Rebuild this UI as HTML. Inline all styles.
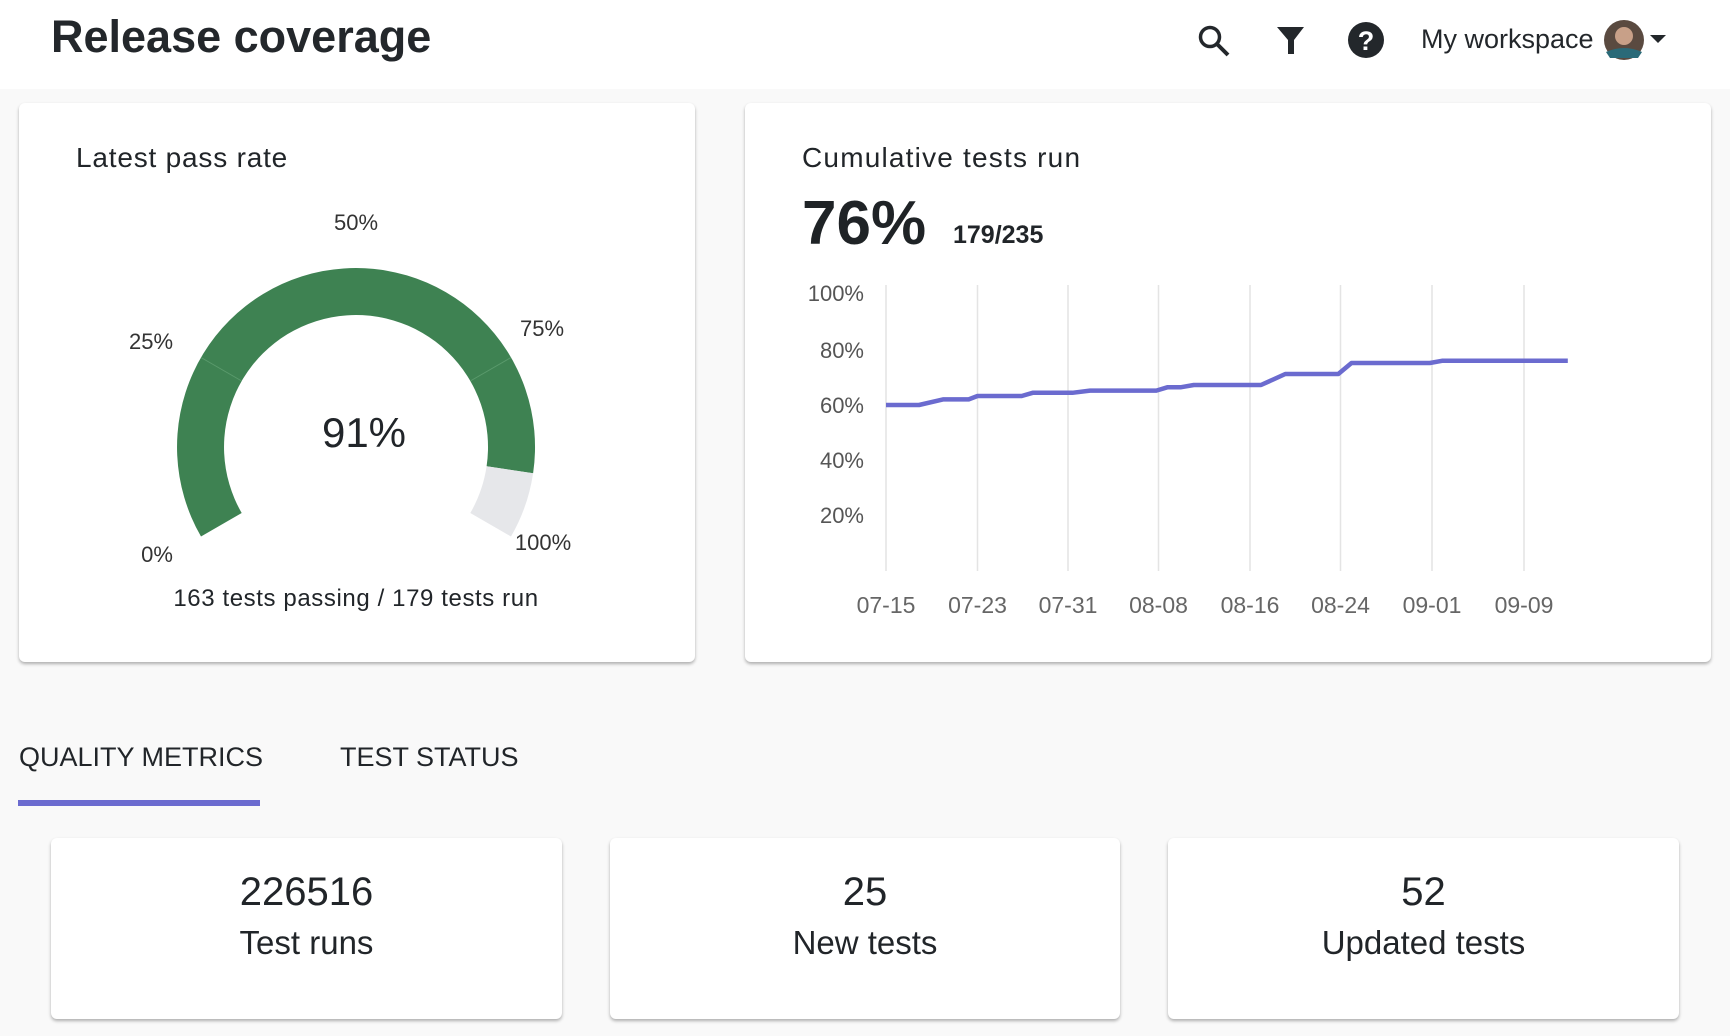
<!DOCTYPE html>
<html><head><meta charset="utf-8"><style>
*{margin:0;padding:0;box-sizing:border-box}
body{width:1730px;height:1036px;background:#f9f9f9;font-family:"Liberation Sans",sans-serif;color:#212529;position:relative;overflow:hidden}
.hdr{position:absolute;left:0;top:0;width:1730px;height:89px;background:#fff}
.t{position:absolute;white-space:nowrap}
.card{position:absolute;background:#fff;border-radius:6px;box-shadow:0 2px 3px rgba(0,0,0,.3)}
</style></head><body>
<div class="hdr"></div>
<div class="t" style="left:51px;top:11px;font-size:45px;font-weight:bold;color:#23272b">Release coverage</div>
<svg style="position:absolute;left:1190px;top:18px" width="480" height="50" viewBox="1190 18 480 50">
<circle cx="1210" cy="37" r="9.5" fill="none" stroke="#23272b" stroke-width="3.5"/>
<line x1="1217" y1="44" x2="1228" y2="55" stroke="#23272b" stroke-width="4"/>
<path d="M1277,27 H1304 L1294,40 V54 H1288 V40 Z" fill="#23272b"/>
<circle cx="1366" cy="40" r="18" fill="#23272b"/>
<text x="1366" y="50" font-size="27" font-weight="bold" text-anchor="middle" fill="#fff" font-family="Liberation Sans">?</text>
<circle cx="1624" cy="40" r="20" fill="#5a4a40"/>
<circle cx="1624" cy="36" r="9" fill="#c8a088"/>
<path d="M1606,52 Q1624,44 1642,52 L1638,58 H1610Z" fill="#2a6a78"/>
<path d="M1650,35 H1666 L1658,43Z" fill="#23272b"/>
</svg>
<div class="t" style="left:1421px;top:24px;font-size:27px;color:#23272b">My workspace</div>

<div class="card" style="left:19px;top:103px;width:676px;height:559px"></div>
<div class="card" style="left:745px;top:103px;width:966px;height:559px"></div>

<div class="t" style="left:76px;top:142px;font-size:28px;letter-spacing:0.8px">Latest pass rate</div>
<svg style="position:absolute;left:0;top:0" width="1730" height="700">
<path d="M201,536.5 A179,179 0 1 1 533.1,473.2 L486.6,466.3 A132,132 0 1 0 241.7,513 Z" fill="#3e8252"/>
<path d="M533.1,473.2 A179,179 0 0 1 511,536.5 L470.3,513 A132,132 0 0 0 486.6,466.3 Z" fill="#e6e7ea"/>
<line x1="201" y1="357.5" x2="241.7" y2="381" stroke="#5a9a6c" stroke-width="1"/>
<line x1="511" y1="357.5" x2="470.3" y2="381" stroke="#5a9a6c" stroke-width="1"/>
<g font-family="Liberation Sans" font-size="22" fill="#333" text-anchor="middle">
<text x="356" y="230">50%</text><text x="151" y="349">25%</text><text x="542" y="336">75%</text>
<text x="157" y="562">0%</text><text x="543" y="550">100%</text>
</g>
<text x="364" y="447" font-family="Liberation Sans" font-size="42" text-anchor="middle" fill="#212529">91%</text>
<text x="356" y="606" font-family="Liberation Sans" font-size="24" letter-spacing="0.6" text-anchor="middle" fill="#212529">163 tests passing / 179 tests run</text>

<g stroke="#e4e4e4" stroke-width="1.5">
<line x1="886" y1="285" x2="886" y2="571"/><line x1="977.5" y1="285" x2="977.5" y2="571"/>
<line x1="1068" y1="285" x2="1068" y2="571"/><line x1="1158.5" y1="285" x2="1158.5" y2="571"/>
<line x1="1250" y1="285" x2="1250" y2="571"/><line x1="1340.5" y1="285" x2="1340.5" y2="571"/>
<line x1="1432" y1="285" x2="1432" y2="571"/><line x1="1524" y1="285" x2="1524" y2="571"/>
</g>
<g font-family="Liberation Sans" font-size="22" fill="#555" text-anchor="end">
<text x="864" y="301">100%</text><text x="864" y="358">80%</text><text x="864" y="413">60%</text><text x="864" y="468">40%</text><text x="864" y="523">20%</text>
</g>
<g font-family="Liberation Sans" font-size="23" fill="#666" text-anchor="middle">
<text x="886" y="613">07-15</text><text x="977.5" y="613">07-23</text><text x="1068" y="613">07-31</text><text x="1158.5" y="613">08-08</text>
<text x="1250" y="613">08-16</text><text x="1340.5" y="613">08-24</text><text x="1432" y="613">09-01</text><text x="1524" y="613">09-09</text>
</g>
<polyline fill="none" stroke="#6b6bcf" stroke-width="4.5" stroke-linejoin="round" points="886,405 919,405 943,399.4 968.7,399.4 977.5,396 1021.7,396 1032.7,392.8 1072.4,392.8 1090,390.6 1156.3,390.6 1167.3,387.3 1180.5,387.3 1193.8,385 1261,385 1285.3,374 1338.3,374 1351.5,363 1429.9,363 1442,360.8 1567.8,360.8"/>
</svg>
<div class="t" style="left:802px;top:142px;font-size:28px;letter-spacing:1.2px">Cumulative tests run</div>
<div class="t" style="left:802px;top:188px;font-size:62px;font-weight:bold;color:#1f2326">76%</div>
<div class="t" style="left:953px;top:221px;font-size:25px;font-weight:bold">179/235</div>

<div class="t" style="left:19px;top:742px;font-size:27px">QUALITY METRICS</div>
<div class="t" style="left:340px;top:742px;font-size:27px">TEST STATUS</div>
<div style="position:absolute;left:18px;top:800px;width:242px;height:6px;background:#6b6bcf"></div>

<div class="card" style="left:51px;top:838px;width:511px;height:181px"></div>
<div class="card" style="left:610px;top:838px;width:510px;height:181px"></div>
<div class="card" style="left:1168px;top:838px;width:511px;height:181px"></div>
<div class="t" style="left:51px;width:511px;text-align:center;top:870px;font-size:40px">226516</div>
<div class="t" style="left:51px;width:511px;text-align:center;top:924px;font-size:33px">Test runs</div>
<div class="t" style="left:610px;width:510px;text-align:center;top:870px;font-size:40px">25</div>
<div class="t" style="left:610px;width:510px;text-align:center;top:924px;font-size:33px">New tests</div>
<div class="t" style="left:1168px;width:511px;text-align:center;top:870px;font-size:40px">52</div>
<div class="t" style="left:1168px;width:511px;text-align:center;top:924px;font-size:33px">Updated tests</div>
</body></html>
